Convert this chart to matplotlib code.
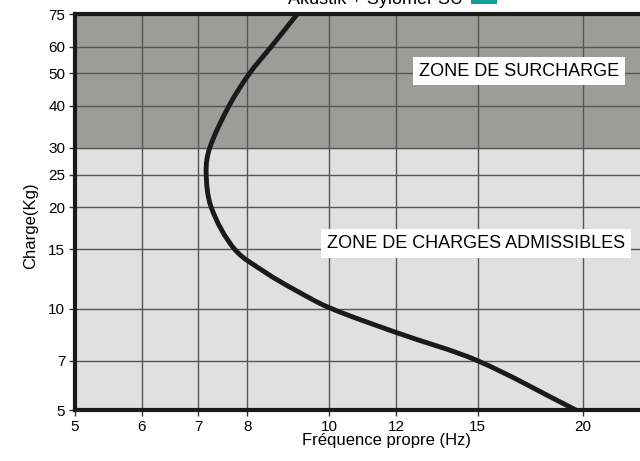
import numpy as np
import matplotlib.pyplot as plt
import matplotlib.patches as patches
from matplotlib.path import Path
from matplotlib.ticker import FixedLocator, NullLocator

plt.rcParams['font.family'] = ['Liberation Sans', 'DejaVu Sans']

# curve (frequency Hz, load kg)
freq = [9.17, 8.54, 8.05, 7.61, 7.22, 7.15, 7.25, 7.73, 8.41, 9.09,
        10.0, 12.0, 15.0, 19.6]
load = [75, 60, 50, 40, 30, 25.5, 20, 15, 12.8, 11.4,
        10.07, 8.5, 7, 5]

x_ticks = [5, 6, 7, 8, 10, 12, 15, 20]
y_ticks = [5, 7, 10, 15, 20, 25, 30, 40, 50, 60, 75]
overload_limit = 30


def smooth_path(xs, ys):
    # smooth curve through the points in log space (as drawn), cubic Bezier
    # handles along the neighbour chord, length a third of each segment
    scale = np.array([844.0, 337.0])  # px per decade on x and y
    q = np.column_stack([np.log10(xs), np.log10(ys)]) * scale
    n = len(q)
    tang = []
    for i in range(n):
        d = q[min(i + 1, n - 1)] - q[max(i - 1, 0)]
        tang.append(d / np.hypot(*d))
    verts = [q[0]]
    codes = [Path.MOVETO]
    for i in range(n - 1):
        seg = np.hypot(*(q[i + 1] - q[i])) / 3.0
        verts += [q[i] + tang[i] * seg, q[i + 1] - tang[i + 1] * seg, q[i + 1]]
        codes += [Path.CURVE4] * 3
    verts = 10 ** (np.array(verts) / scale)
    return Path(verts, codes)


fig = plt.figure(figsize=(6.4, 4.61), dpi=100)
ax = fig.add_axes([75 / 640, 51 / 461, 565 / 640, 396 / 461])
ax.set_xscale('log')
ax.set_yscale('log')
ax.set_xlim(5, 23.35)
ax.set_ylim(5, 75)

# zone backgrounds
ax.set_facecolor('#e0e0e0')
ax.axhspan(overload_limit, 75, color='#9d9d98', zorder=0)

ax.xaxis.set_major_locator(FixedLocator(x_ticks))
ax.xaxis.set_minor_locator(NullLocator())
ax.yaxis.set_major_locator(FixedLocator(y_ticks))
ax.yaxis.set_minor_locator(NullLocator())
ax.set_xticklabels([str(v) for v in x_ticks])
ax.set_yticklabels([str(v) for v in y_ticks])
ax.tick_params(axis='both', labelsize=11, length=4, width=1, color='#333333', pad=3)
ax.grid(True, which='major', color='#555555', linewidth=1)
ax.set_axisbelow(True)

for side in ['left', 'bottom', 'top']:
    ax.spines[side].set_linewidth(3)
    ax.spines[side].set_color('#1a1a1a')
ax.spines['right'].set_visible(False)

curve = patches.PathPatch(smooth_path(freq, load), facecolor='none',
                          edgecolor='#1a1a1a', linewidth=3.5, zorder=3)
ax.add_patch(curve)

ax.text(419 / 640, 1 - 71 / 461, 'ZONE DE SURCHARGE', transform=fig.transFigure,
        fontsize=13, va='center', ha='left', zorder=4,
        bbox=dict(facecolor='white', edgecolor='none', pad=4))
ax.text(327 / 640, 1 - 243.5 / 461, 'ZONE DE CHARGES ADMISSIBLES', transform=fig.transFigure,
        fontsize=13, va='center', ha='left', zorder=4,
        bbox=dict(facecolor='white', edgecolor='none', pad=4))

fig.text(386 / 640, 1 - 440 / 461, 'Fréquence propre (Hz)', fontsize=12,
         ha='center', va='center')
fig.text(31 / 640, 1 - 226 / 461, 'Charge(Kg)', fontsize=12, rotation=90,
         ha='center', va='center')

# title cut off at the top, as in the original
fig.text(463 / 640, 1 - 4 / 461, 'Akustik + Sylomer SU', fontsize=13,
         ha='right', va='baseline')
fig.patches.append(patches.Rectangle((471 / 640, 1 - 4 / 461), 26 / 640, 10 / 461,
                                     transform=fig.transFigure, facecolor='#10a098',
                                     edgecolor='none'))

fig.savefig('out.png', dpi=100)
